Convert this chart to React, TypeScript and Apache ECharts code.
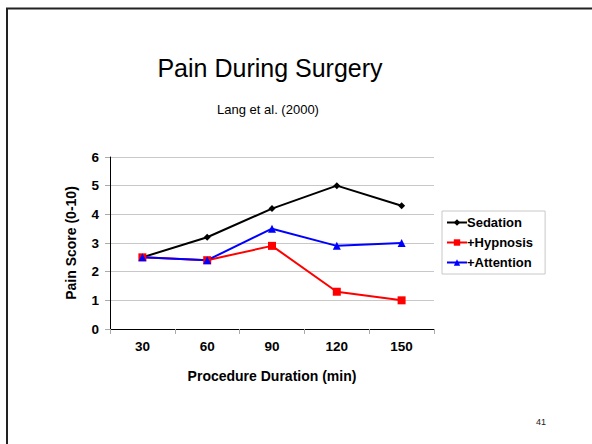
import React, { useEffect, useRef } from "react";
import * as echarts from "echarts";

const categories = ["30", "60", "90", "120", "150"];
const sedation = [2.5, 3.2, 4.2, 5.0, 4.3];
const hypnosis = [2.5, 2.4, 2.9, 1.3, 1.0];
const attention = [2.5, 2.4, 3.5, 2.9, 3.0];
const seriesNames = ["Sedation", "+Hypnosis", "+Attention"];
const titleText = "Pain During Surgery";
const subtitleText = "Lang et al. (2000)";
const pageNumber = "41";

const FONT = "'Liberation Sans', Arial, sans-serif";

export default function App() {
  const ref = useRef<HTMLDivElement>(null);
  useEffect(() => {
    if (!ref.current) return;
    const chart = echarts.init(ref.current, null, { renderer: "svg" });
    chart.setOption({
      animation: false,
      backgroundColor: "#ffffff",
      textStyle: { fontFamily: FONT },
      graphic: [
        {
          type: "rect",
          shape: { x: 7, y: 8.5, width: 620, height: 470 },
          style: { fill: "none", stroke: "#222", lineWidth: 2 },
          silent: true,
        },
        {
          type: "text",
          x: 270,
          y: 68,
          style: {
            text: titleText,
            fontSize: 25,
            fontFamily: FONT,
            fill: "#000",
            textAlign: "center",
            textVerticalAlign: "middle",
          },
        },
        {
          type: "text",
          x: 268,
          y: 109,
          style: {
            text: subtitleText,
            fontSize: 13,
            fontFamily: FONT,
            fill: "#000",
            textAlign: "center",
            textVerticalAlign: "middle",
          },
        },
        {
          type: "text",
          x: 541,
          y: 422,
          style: {
            text: pageNumber,
            fontSize: 9,
            fontFamily: FONT,
            fill: "#222",
            textAlign: "center",
            textVerticalAlign: "middle",
          },
        },
      ],
      legend: {
        orient: "vertical",
        left: 442,
        top: 211,
        padding: [5, 12, 5, 4],
        borderColor: "#c8c8c8",
        borderWidth: 1,
        itemWidth: 20,
        itemHeight: 8,
        itemGap: 7,
        data: seriesNames,
        textStyle: { fontSize: 13, fontWeight: "bold", color: "#000", fontFamily: FONT, padding: [0, 0, 0, -5] },
      },
      grid: { left: 110, top: 157, right: 158, bottom: 115 },
      xAxis: {
        type: "category",
        data: categories,
        boundaryGap: true,
        axisLine: { lineStyle: { color: "#000", width: 1 } },
        axisTick: { show: true, length: 5, lineStyle: { color: "#aaa" } },
        axisLabel: { fontSize: 13.5, fontWeight: "bold", color: "#000", margin: 10, fontFamily: FONT },
        name: "Procedure Duration (min)",
        nameLocation: "middle",
        nameGap: 40,
        nameTextStyle: { fontSize: 14, fontWeight: "bold", color: "#000", fontFamily: FONT },
      },
      yAxis: {
        type: "value",
        min: 0,
        max: 6,
        interval: 1,
        axisLine: { show: true, lineStyle: { color: "#000", width: 1 } },
        axisTick: { show: true, length: 5, lineStyle: { color: "#aaa" } },
        splitLine: { lineStyle: { color: "#c8c8c8", width: 1 } },
        axisLabel: { fontSize: 13.5, fontWeight: "bold", color: "#000", margin: 11, fontFamily: FONT },
        name: "Pain Score (0-10)",
        nameLocation: "middle",
        nameRotate: 90,
        nameGap: 32,
        nameTextStyle: { fontSize: 14, fontWeight: "bold", color: "#000", fontFamily: FONT },
      },
      series: [
        {
          name: seriesNames[0],
          type: "line",
          data: sedation,
          symbol: "diamond",
          symbolSize: 7,
          lineStyle: { color: "#000", width: 2 },
          itemStyle: { color: "#000" },
        },
        {
          name: seriesNames[1],
          type: "line",
          data: hypnosis,
          symbol: "rect",
          symbolSize: 8,
          lineStyle: { color: "#ff0000", width: 2 },
          itemStyle: { color: "#ff0000" },
        },
        {
          name: seriesNames[2],
          type: "line",
          data: attention,
          symbol: "triangle",
          symbolSize: 8,
          lineStyle: { color: "#0000ff", width: 2 },
          itemStyle: { color: "#0000ff" },
        },
      ],
    });
    return () => chart.dispose();
  }, []);
  return (
    <div
      ref={ref}
      style={{ position: "fixed", left: 0, top: 0, width: 592, height: 444 }}
    />
  );
}
